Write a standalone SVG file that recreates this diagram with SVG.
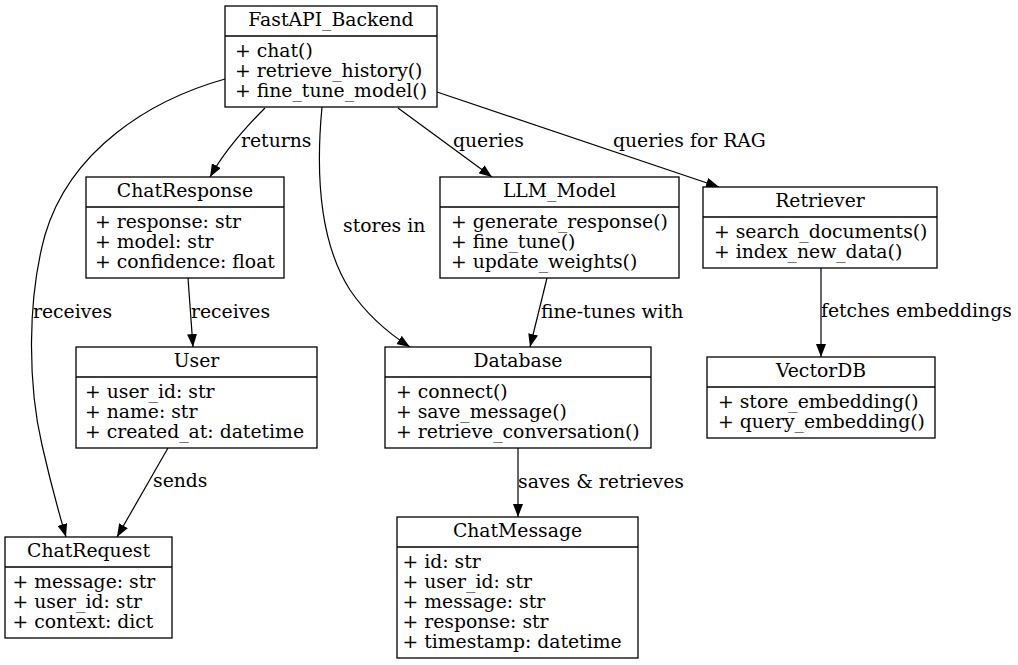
<svg xmlns="http://www.w3.org/2000/svg" width="1018" height="665" viewBox="0 0 1018 665">
<defs>
<style>
text{font-family:"DejaVu Serif","Liberation Serif",serif;font-size:18.8px;fill:#000}
.t{text-anchor:middle}
.box{fill:#fff;stroke:#000;stroke-width:1.3}
.div{stroke:#000;stroke-width:1.3}
.e{fill:none;stroke:#000;stroke-width:1.2}
</style>
<marker id="arr" viewBox="0 0 13 10" refX="13" refY="5" markerWidth="13" markerHeight="10" markerUnits="userSpaceOnUse" orient="auto">
<path d="M0,0 L13,5 L0,10 z" fill="#000"/>
</marker>
</defs>
<rect width="1018" height="665" fill="#fff"/>
<g id="connectors">
<path class="e" marker-end="url(#arr)" d="M225,79 C150,100 70,150 45,235 C27,300 28,385 42,445 C50,480 58,510 66,537"/>
<path class="e" marker-end="url(#arr)" d="M265,108 C245,128 225,150 210,177"/>
<path class="e" marker-end="url(#arr)" d="M322,107 C316,170 318,240 350,290 C367,315 388,333 410,347"/>
<path class="e" marker-end="url(#arr)" d="M398,108 L492,177"/>
<path class="e" marker-end="url(#arr)" d="M437,92 L719,187"/>
<path class="e" marker-end="url(#arr)" d="M188,278 L193,347"/>
<path class="e" marker-end="url(#arr)" d="M547,278 L530,347"/>
<path class="e" marker-end="url(#arr)" d="M168,448 L117,537"/>
<path class="e" marker-end="url(#arr)" d="M518,448 L518,517"/>
<path class="e" marker-end="url(#arr)" d="M821,268 L821,357"/>
<text x="241" y="147">returns</text>
<text x="453" y="147">queries</text>
<text x="613" y="147">queries for RAG</text>
<text x="343" y="232">stores in</text>
<text x="33" y="318">receives</text>
<text x="191" y="318">receives</text>
<text x="541" y="318">fine-tunes with</text>
<text x="821" y="317">fetches embeddings</text>
<text x="153" y="487">sends</text>
<text x="518" y="488">saves &amp; retrieves</text>
</g>
<g id="FastAPI_Backend">
<rect class="box" x="225" y="6" width="212" height="101"/>
<line class="div" x1="225" y1="36" x2="437" y2="36"/>
<text class="t" x="331" y="26">FastAPI_Backend</text>
<text x="235" y="57">+ chat()</text>
<text x="235" y="77">+ retrieve_history()</text>
<text x="235" y="97">+ fine_tune_model()</text>
</g>
<g id="ChatResponse">
<rect class="box" x="86" y="177" width="198" height="101"/>
<line class="div" x1="86" y1="207" x2="284" y2="207"/>
<text class="t" x="185" y="197">ChatResponse</text>
<text x="95" y="228">+ response: str</text>
<text x="95" y="248">+ model: str</text>
<text x="95" y="268">+ confidence: float</text>
</g>
<g id="LLM_Model">
<rect class="box" x="440" y="177" width="239" height="101"/>
<line class="div" x1="440" y1="207" x2="679" y2="207"/>
<text class="t" x="559.5" y="197">LLM_Model</text>
<text x="451" y="228">+ generate_response()</text>
<text x="451" y="248">+ fine_tune()</text>
<text x="451" y="268">+ update_weights()</text>
</g>
<g id="Retriever">
<rect class="box" x="703" y="187" width="234" height="81"/>
<line class="div" x1="703" y1="217" x2="937" y2="217"/>
<text class="t" x="820" y="207">Retriever</text>
<text x="714" y="238">+ search_documents()</text>
<text x="714" y="258">+ index_new_data()</text>
</g>
<g id="User">
<rect class="box" x="76" y="347" width="241" height="101"/>
<line class="div" x1="76" y1="377" x2="317" y2="377"/>
<text class="t" x="196.5" y="367">User</text>
<text x="85" y="398">+ user_id: str</text>
<text x="85" y="418">+ name: str</text>
<text x="85" y="438">+ created_at: datetime</text>
</g>
<g id="Database">
<rect class="box" x="385" y="347" width="266" height="101"/>
<line class="div" x1="385" y1="377" x2="651" y2="377"/>
<text class="t" x="518" y="367">Database</text>
<text x="396" y="398">+ connect()</text>
<text x="396" y="418">+ save_message()</text>
<text x="396" y="438">+ retrieve_conversation()</text>
</g>
<g id="VectorDB">
<rect class="box" x="707" y="357" width="228" height="81"/>
<line class="div" x1="707" y1="387" x2="935" y2="387"/>
<text class="t" x="821" y="377">VectorDB</text>
<text x="718" y="408">+ store_embedding()</text>
<text x="718" y="428">+ query_embedding()</text>
</g>
<g id="ChatRequest">
<rect class="box" x="5" y="537" width="167" height="101"/>
<line class="div" x1="5" y1="567" x2="172" y2="567"/>
<text class="t" x="88.5" y="557">ChatRequest</text>
<text x="12.5" y="588">+ message: str</text>
<text x="12.5" y="608">+ user_id: str</text>
<text x="12.5" y="628">+ context: dict</text>
</g>
<g id="ChatMessage">
<rect class="box" x="397" y="517" width="241" height="141"/>
<line class="div" x1="397" y1="547" x2="638" y2="547"/>
<text class="t" x="517.5" y="537">ChatMessage</text>
<text x="402.5" y="568">+ id: str</text>
<text x="402.5" y="588">+ user_id: str</text>
<text x="402.5" y="608">+ message: str</text>
<text x="402.5" y="628">+ response: str</text>
<text x="402.5" y="648">+ timestamp: datetime</text>
</g>
</svg>
